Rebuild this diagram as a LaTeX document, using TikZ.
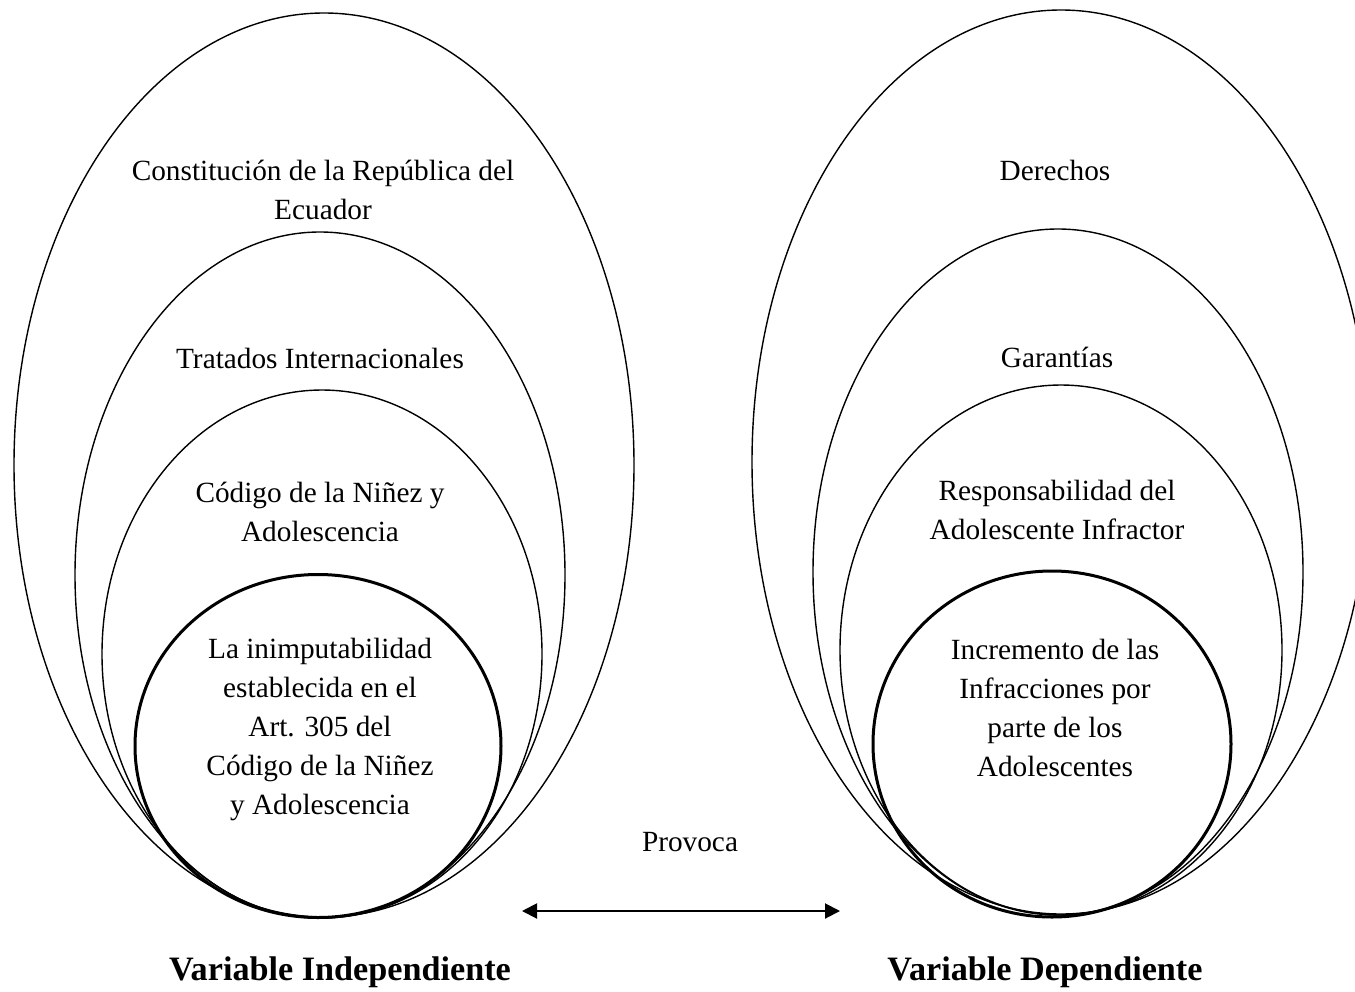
\documentclass[tikz,border=0pt]{standalone}
\usepackage{fontspec}
\setmainfont{Liberation Serif}
\usetikzlibrary{shapes.geometric,arrows.meta}
\begin{document}
\begin{tikzpicture}[x=1pt,y=-1pt,
  ring/.style={ellipse,draw,line width=1.4pt,inner sep=0pt},
  corering/.style={ellipse,draw,line width=3pt,inner sep=0pt},
  lbl/.style={align=center,font=\fontsize{29.3}{39}\selectfont,inner sep=0pt},
  varlbl/.style={font=\fontsize{34.2}{40}\selectfont\bfseries,inner sep=0pt},
  biarrow/.style={line width=2pt,{Triangle[length=15pt,width=15pt]}-{Triangle[length=15pt,width=15pt]}}]
\useasboundingbox (0,0) rectangle (1355,991);
% left group
\node[ring,minimum width=620pt,minimum height=904pt] (L1) at (324,465) {};
\node[ring,minimum width=490pt,minimum height=686pt] (L2) at (320,575) {};
\node[ring,minimum width=440pt,minimum height=528pt] (L3) at (322,654) {};
\node[corering,minimum width=366pt,minimum height=343pt] (L4) at (318,746) {};
% right group
\node[ring,minimum width=618pt,minimum height=904pt] (R1) at (1061,462) {};
\node[ring,minimum width=490pt,minimum height=686pt] (R2) at (1058,572) {};
\node[ring,minimum width=442pt,minimum height=530pt] (R3) at (1061,650) {};
\node[corering,minimum width=358pt,minimum height=346pt] (R4) at (1052,744) {};
% texts left
\node[lbl] (t1) at (323,190) {Constitución de la República del\\Ecuador};
\node[lbl] (t2) at (320,358) {Tratados Internacionales};
\node[lbl] (t3) at (320,512) {Código de la Niñez y\\Adolescencia};
\node[lbl] (t4) at (320,729) {La inimputabilidad\\establecida en el\\Art. 305 del\\Código de la Niñez\\y Adolescencia};
% texts right
\node[lbl] (u1) at (1055,170) {Derechos};
\node[lbl] (u2) at (1057,357) {Garantías};
\node[lbl] (u3) at (1057,510) {Responsabilidad del\\Adolescente Infractor};
\node[lbl] (u4) at (1055,708) {Incremento de las\\Infracciones por\\parte de los\\Adolescentes};
% middle
\node[lbl] (pv) at (690,842) {Provoca};
\coordinate (aL) at (522,911);
\coordinate (aR) at (840,911);
\draw[biarrow] (aL) -- (aR);
\node[varlbl] (vi) at (340,972) {Variable Independiente};
\node[varlbl] (vd) at (1045,972) {Variable Dependiente};
\end{tikzpicture}
\end{document}
